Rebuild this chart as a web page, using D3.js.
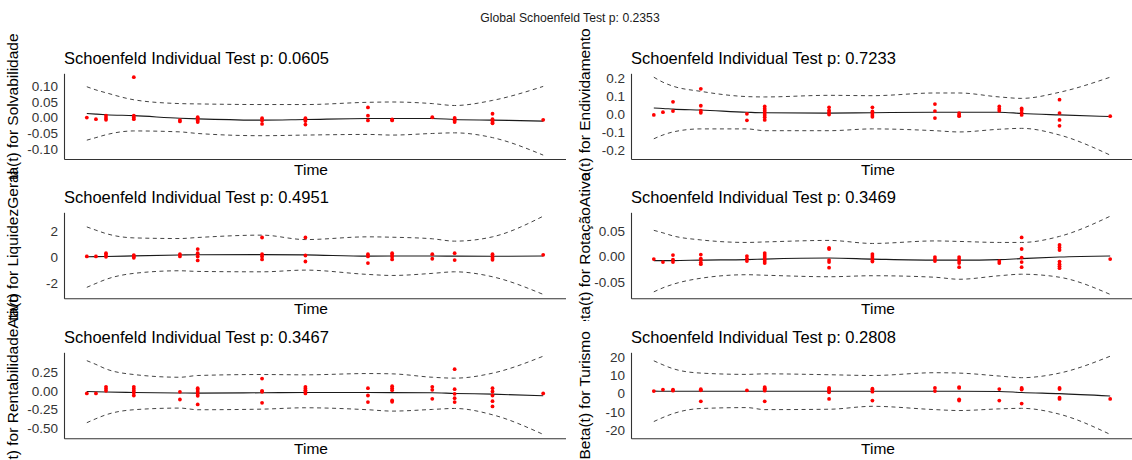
<!DOCTYPE html>
<html>
<head>
<meta charset="utf-8">
<script src="https://cdn.jsdelivr.net/npm/d3@7"></script>
<style>
  html, body { margin: 0; padding: 0; background: #fff; }
  svg { display: block; font-family: "Liberation Sans", Arial, sans-serif; }
</style>
</head>
<body>
<svg id="chart" width="1132" height="460"></svg>
<script>
// Event times on the Kaplan-Meier transformed scale (shared by every covariate)
const times = [0.000, 0.020, 0.042, 0.103, 0.204, 0.243, 0.384, 0.479, 0.616, 0.669, 0.757, 0.806, 0.889, 1.000];

const globalP = "0.2353";
const covariates = ["Solvabilidade", "Endividamento", "LiquidezGeral", "RotaçãoAtivo", "RentabilidadeAtivo", "Turismo"];
const pValues = ["0.0605", "0.7233", "0.4951", "0.3469", "0.3467", "0.2808"];

// Scaled Schoenfeld residuals, one list per event time
const solvResid = [[0.000], [-0.005], [0.006, -0.001, -0.007], [0.127, 0.006, 0.000, -0.005], [-0.008, -0.012],
  [0.001, -0.004, -0.009, -0.014], [-0.002, -0.009, -0.020], [-0.002, -0.007, -0.011, -0.022], [0.032, 0.006, -0.009],
  [-0.006, -0.009], [0.001], [-0.001, -0.005, -0.009, -0.014], [0.012, -0.005, -0.009, -0.014, -0.018], [-0.007]];
const solvFit   = [0.013, 0.011, 0.009, 0.006, -0.002, -0.004, -0.008, -0.006, -0.003, -0.003, -0.003, -0.006, -0.008, -0.011];
const solvUpper = [0.097, 0.087, 0.078, 0.056, 0.044, 0.043, 0.041, 0.041, 0.048, 0.049, 0.044, 0.038, 0.054, 0.098];
const solvLower = [-0.071, -0.063, -0.054, -0.042, -0.045, -0.050, -0.057, -0.055, -0.053, -0.055, -0.050, -0.048, -0.063, -0.118];

const endivResid = [[-0.006], [0.009], [0.067, 0.015], [0.139, 0.045, 0.017, 0.006], [0.000, -0.036],
  [0.041, 0.028, 0.017, 0.006, -0.006, -0.019, -0.034], [0.036, 0.019, 0.007, -0.004], [0.036, 0.013, 0.004, -0.007, -0.017],
  [0.054, 0.015, -0.024], [0.004, -0.006, -0.013], [0.041, 0.028, 0.017], [0.030, 0.021, 0.006, -0.006],
  [0.079, 0.004, -0.034, -0.067], [-0.013]];
const endivFit   = [0.032, 0.030, 0.026, 0.021, 0.009, 0.006, 0.004, 0.006, 0.009, 0.009, 0.009, 0.002, -0.006, -0.015];
const endivUpper = [0.204, 0.176, 0.154, 0.125, 0.096, 0.094, 0.103, 0.101, 0.116, 0.116, 0.094, 0.086, 0.120, 0.204];
const endivLower = [-0.139, -0.118, -0.101, -0.084, -0.084, -0.094, -0.094, -0.084, -0.094, -0.101, -0.086, -0.081, -0.118, -0.230];

const liqResid = [[0.03], [0.03], [0.28, 0.13, 0.00], [0.13, 0.03, -0.08], [0.20, 0.03], [0.59, 0.28, 0.03, -0.28],
  [1.48, 0.20, 0.03, -0.20], [1.48, 0.10, -0.36], [0.20, 0.03, -0.48], [0.28, 0.13, 0.00, -0.20], [0.20, -0.15],
  [0.28, -0.25], [0.20, 0.03, -0.10, -0.23], [0.15]];
const liqFit   = [0.00, 0.01, 0.02, 0.07, 0.14, 0.16, 0.17, 0.15, 0.05, 0.06, 0.06, 0.05, 0.04, 0.06];
const liqUpper = [2.29, 2.04, 1.78, 1.45, 1.40, 1.48, 1.66, 1.32, 1.53, 1.50, 1.38, 1.20, 1.53, 3.11];
const liqLower = [-2.34, -2.04, -1.73, -1.27, -1.07, -1.12, -1.15, -1.02, -1.35, -1.43, -1.27, -1.15, -1.53, -2.88];

const rotResid = [[-0.005], [-0.011], [0.003, -0.006, -0.011], [0.004, -0.004, -0.007, -0.012, -0.015], [0.001, -0.004, -0.009],
  [0.007, 0.003, -0.001, -0.005, -0.009, -0.013], [0.017, 0.015, -0.007, -0.011, -0.022], [0.005, 0.001, -0.003, -0.007, -0.010],
  [-0.001, -0.005, -0.009], [-0.001, -0.005, -0.009, -0.013, -0.021], [-0.009, -0.013], [0.038, 0.015, -0.002, -0.011, -0.021],
  [0.023, 0.018, 0.013, -0.010, -0.015, -0.019, -0.023], [-0.005]];
const rotFit   = [-0.008, -0.008, -0.008, -0.007, -0.006, -0.005, -0.003, -0.005, -0.007, -0.007, -0.006, -0.004, -0.001, 0.001];
const rotUpper = [0.052, 0.047, 0.041, 0.033, 0.028, 0.029, 0.032, 0.026, 0.031, 0.030, 0.028, 0.028, 0.040, 0.080];
const rotLower = [-0.070, -0.062, -0.055, -0.043, -0.036, -0.037, -0.040, -0.038, -0.041, -0.045, -0.038, -0.035, -0.041, -0.075];

const rentResid = [[-0.035], [-0.035], [0.053, 0.026, 0.000], [0.053, 0.026, 0.000, -0.026, -0.062], [-0.013, -0.115],
  [0.035, 0.013, -0.013, -0.040, -0.066, -0.180], [0.163, 0.000, -0.013, -0.159], [0.053, 0.031, 0.009, -0.013, -0.035],
  [0.035, -0.062, -0.150], [0.062, 0.035, 0.009, -0.128, -0.146], [0.053, 0.013, -0.106], [0.287, 0.022, -0.040, -0.097, -0.150],
  [0.035, -0.009, -0.062, -0.137, -0.207], [-0.035]];
const rentFit   = [-0.009, -0.012, -0.015, -0.022, -0.029, -0.031, -0.026, -0.022, -0.022, -0.024, -0.026, -0.035, -0.044, -0.066];
const rentUpper = [0.400, 0.350, 0.290, 0.216, 0.180, 0.203, 0.216, 0.212, 0.229, 0.225, 0.180, 0.168, 0.234, 0.459];
const rentLower = [-0.423, -0.370, -0.318, -0.251, -0.229, -0.251, -0.243, -0.225, -0.251, -0.269, -0.247, -0.234, -0.318, -0.578];

const turResid = [[1.4], [2.2], [2.2, 1.6], [2.4, 1.8, -4.2], [1.8], [3.6, 2.9, 2.4, 1.6, -4.2], [3.1, 2.5, 1.8, 0.7, -2.9],
  [2.7, 2.2, 1.1, -3.8], [3.1, 1.4], [3.6, 3.1, -3.1, -3.8], [2.5, -3.8], [3.1, 2.5, 2.2, -5.4], [3.1, 2.5, -2.2, -2.9], [-2.9]];
const turFit   = [1.4, 1.3, 1.3, 1.3, 1.3, 1.3, 1.3, 1.3, 1.3, 1.3, 1.2, 0.6, 0.0, -1.3];
const turUpper = [17.9, 15.7, 13.6, 11.2, 10.5, 10.8, 10.3, 9.9, 11.4, 11.2, 9.6, 8.7, 11.2, 20.4];
const turLower = [-15.2, -13.0, -10.9, -8.1, -7.6, -8.7, -8.5, -6.9, -8.7, -9.2, -8.3, -8.0, -11.2, -22.2];

// Y-axis ticks for each covariate
const solvTicks  = [-0.10, -0.05, 0.00, 0.05, 0.10];
const solvLabels = ["-0.10", "-0.05", "0.00", "0.05", "0.10"];
const endivTicks  = [-0.2, -0.1, 0.0, 0.1, 0.2];
const endivLabels = ["-0.2", "-0.1", "0.0", "0.1", "0.2"];
const liqTicks  = [-2, 0, 2];
const liqLabels = ["-2", "0", "2"];
const rotTicks  = [-0.05, 0.00, 0.05];
const rotLabels = ["-0.05", "0.00", "0.05"];
const rentTicks  = [-0.50, -0.25, 0.00, 0.25];
const rentLabels = ["-0.50", "-0.25", "0.00", "0.25"];
const turTicks  = [-20, -10, 0, 10, 20];
const turLabels = ["-20", "-10", "0", "10", "20"];

const panels = [
  { resid: solvResid,  fit: solvFit,  upper: solvUpper,  lower: solvLower,  ticks: solvTicks,  labels: solvLabels },
  { resid: endivResid, fit: endivFit, upper: endivUpper, lower: endivLower, ticks: endivTicks, labels: endivLabels },
  { resid: liqResid,   fit: liqFit,   upper: liqUpper,   lower: liqLower,   ticks: liqTicks,   labels: liqLabels },
  { resid: rotResid,   fit: rotFit,   upper: rotUpper,   lower: rotLower,   ticks: rotTicks,   labels: rotLabels },
  { resid: rentResid,  fit: rentFit,  upper: rentUpper,  lower: rentLower,  ticks: rentTicks,  labels: rentLabels },
  { resid: turResid,   fit: turFit,   upper: turUpper,   lower: turLower,   ticks: turTicks,   labels: turLabels }
];

// ---- layout ----
const W = 1132, H = 460;
const colX0 = [0, 566];
const plotLeft = [64, 631];
const plotRight = [566, 1133];
const cellTop = [36, 180, 321];
const cellBottom = [180, 321, 460];
const plotTop = [73.3, 212.3, 352.3];
const plotBottom = [159, 298.3, 438.3];
const yTitleX = [18, 590];
const FONT = '"Liberation Sans", Arial, sans-serif';

const svg = d3.select("#chart");
svg.append("rect").attr("width", W).attr("height", H).attr("fill", "#fff");

svg.append("text")
  .attr("x", W / 2 + 4).attr("y", 22)
  .attr("text-anchor", "middle")
  .attr("font-size", 12.2)
  .attr("fill", "#1a1a1a")
  .text("Global Schoenfeld Test p: " + globalP);

// ggplot-style 5% expansion of a numeric range
function expand(ext, f = 0.05) {
  const d = (ext[1] - ext[0]) * f;
  return [ext[0] - d, ext[1] + d];
}

const xDomain = expand(d3.extent(times));

panels.forEach((p, i) => {
  const row = Math.floor(i / 2), col = i % 2;
  const g = svg.append("g");

  // cell background (later cells cover overflow of earlier ones)
  g.append("rect")
    .attr("x", colX0[col]).attr("y", cellTop[row])
    .attr("width", 566).attr("height", cellBottom[row] - cellTop[row])
    .attr("fill", "#fff");

  const x = d3.scaleLinear().domain(xDomain).range([plotLeft[col], plotRight[col]]);
  const allY = p.resid.flat().concat(p.upper, p.lower, p.fit);
  const y = d3.scaleLinear().domain(expand(d3.extent(allY))).range([plotBottom[row], plotTop[row]]);

  // axes
  const yAxis = d3.axisLeft(y).tickValues(p.ticks).tickSize(0).tickSizeOuter(0).tickPadding(6)
    .tickFormat((d, k) => p.labels[k]);
  const ya = g.append("g").attr("transform", `translate(${plotLeft[col]},0)`).call(yAxis);
  ya.select(".domain").attr("stroke", "#333").attr("stroke-width", 1.1);
  ya.selectAll("text").attr("font-size", 13.5).attr("fill", "#333").attr("font-family", FONT);

  const xAxis = d3.axisBottom(x).tickValues([]).tickSizeOuter(0);
  const xa = g.append("g").attr("transform", `translate(0,${plotBottom[row]})`).call(xAxis);
  xa.select(".domain").attr("stroke", "#333").attr("stroke-width", 1.1);

  // confidence band (dashed)
  const line = d3.line().x((d, k) => x(times[k])).y(d => y(d)).curve(d3.curveMonotoneX);
  [p.upper, p.lower].forEach(arr => {
    g.append("path").attr("d", line(arr))
      .attr("fill", "none").attr("stroke", "#444").attr("stroke-width", 1)
      .attr("stroke-dasharray", "4,3.5");
  });

  // smoothed beta(t)
  g.append("path").attr("d", line(p.fit))
    .attr("fill", "none").attr("stroke", "#1a1a1a").attr("stroke-width", 1.1);

  // residual points
  const pts = [];
  p.resid.forEach((vals, k) => vals.forEach(v => pts.push([times[k], v])));
  g.selectAll("circle.pt").data(pts).join("circle")
    .attr("class", "pt")
    .attr("cx", d => x(d[0])).attr("cy", d => y(d[1]))
    .attr("r", 1.9).attr("fill", "#ff0000");

  // titles
  g.append("text")
    .attr("x", plotLeft[col]).attr("y", plotTop[row] - 9.3)
    .attr("font-size", 16.5).attr("fill", "#000")
    .text("Schoenfeld Individual Test p: " + pValues[i]);

  g.append("text")
    .attr("x", (plotLeft[col] + plotRight[col]) / 2 - 4).attr("y", plotBottom[row] + 15.5)
    .attr("text-anchor", "middle").attr("font-size", 15.5).attr("fill", "#000")
    .text("Time");

  g.append("text")
    .attr("transform", `translate(${yTitleX[col]},${(plotTop[row] + plotBottom[row]) / 2}) rotate(-90)`)
    .attr("text-anchor", "middle").attr("font-size", 15.5).attr("fill", "#000")
    .text("Beta(t) for " + covariates[i]);
});
</script>
</body>
</html>
